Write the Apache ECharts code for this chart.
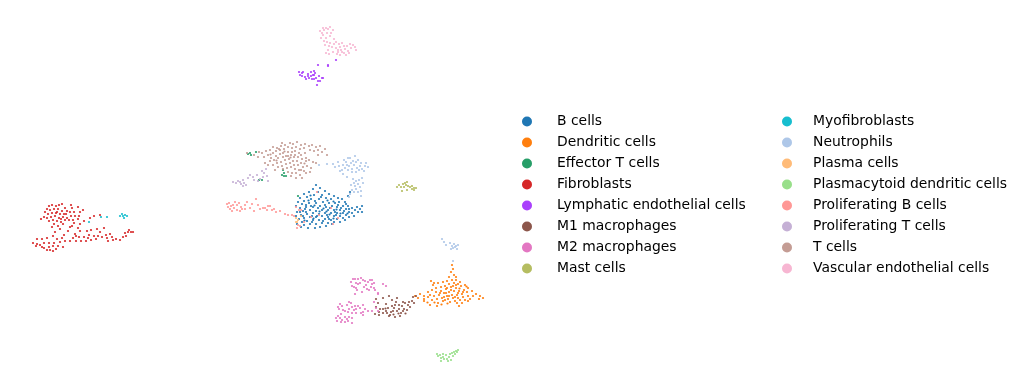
<!DOCTYPE html>
<html><head><meta charset="utf-8">
<style>html,body{margin:0;padding:0;background:#fff}#c{width:1022px;height:389px}</style>
<script src="https://cdn.jsdelivr.net/npm/echarts@6/dist/echarts.min.js"></script>
</head><body><div id="c"></div>
<script>
const bCells=[[316,185],[313,189],[320,188],[318,192],[309,192],[304,194],[325,191],[329,194],[322,195],[314,195],[307,197],[300,198],[334,196],[338,198],[342,199],[331,199],[326,198],[319,199],[311,199],[304,201],[298,202],[345,202],[339,202],[335,203],[329,203],[323,202],[316,203],[309,203],[302,204],[296,206],[348,206],[343,206],[337,207],[332,206],[326,207],[320,206],[313,207],[306,207],[300,208],[352,208],[357,207],[362,206],[346,209],[340,210],[334,210],[328,210],[322,210],[316,211],[310,210],[303,211],[297,212],[355,210],[360,209],[349,212],[343,213],[337,213],[331,213],[325,213],[319,214],[313,213],[307,214],[301,215],[296,216],[352,213],[358,212],[362,212],[346,215],[340,216],[334,216],[328,217],[322,216],[316,217],[310,217],[304,218],[299,219],[354,216],[349,217],[343,218],[337,219],[331,220],[325,219],[319,220],[313,220],[307,221],[302,222],[297,224],[345,220],[340,222],[334,222],[328,223],[322,223],[316,224],[310,224],[304,225],[315,228],[326,226],[301,227],[308,228],[320,227],[332,224],[338,205],[318,208],[311,206],[325,205],[330,208],[305,209],[315,201],[321,197],[306,212],[317,216],[327,215],[336,215],[341,208],[349,209],[346,204],[300,212],[312,216],[323,221],[329,219],[335,212],[344,211],[303,216],[312,222],[348,196],[350,192],[306,205],[310.5,195.5],[327.5,200.5],[333.5,201.5],[314.5,205.5],[323.5,208.5],[308.5,200.5],[336.5,209.5],[319.5,211.5],[313.5,218.5],[326.5,211.5],[340.5,213.5],[304.5,220.5],[329.5,214.5],[347.5,213.5],[333.5,218.5]];
const dendriticCells=[[452,265],[453,269],[451,272],[454,275],[449,277],[456,277],[431,281],[433,285],[438,283],[443,282],[447,281],[452,280],[456,280],[460,282],[458,284],[454,283],[449,284],[445,286],[441,287],[436,288],[432,290],[428,292],[436,292],[441,291],[446,289],[451,287],[456,288],[461,286],[465,285],[468,288],[464,290],[459,291],[454,291],[449,292],[444,293],[439,295],[434,296],[428,297],[424,296],[420,294],[418,298],[415,296],[432,300],[437,299],[442,298],[447,296],[452,295],[457,295],[462,294],[467,292],[472,291],[476,294],[480,296],[483,298],[479,299],[473,296],[468,296],[463,297],[458,298],[453,298],[448,299],[443,301],[438,303],[430,305],[424,301],[450,302],[455,301],[460,300],[465,300],[457,303],[462,303],[470,299],[447,288],[453,286],[458,293],[463,292],[444,297],[451,290],[455,297],[437,306],[459,306],[424,299],[434,283],[440,293],[446,293],[445,300],[449,296],[456,285],[430,295],[468,301],[434.5,302.5],[441.5,304.5],[427.5,302.5],[447.5,303.5],[466.5,286.5],[459.5,288.5]];
const effectorT=[[248,154],[250,153],[251,155],[256,152],[283,170],[284,173],[282,175],[284,176],[286,176],[259,180],[262,180],[298,196]];
const fibroblasts=[[52,205],[56,206],[59,205],[62,204],[65,208],[71,205],[72,208],[78,207],[83,210],[47,209],[50,210],[54,209],[58,209],[62,211],[67,211],[45,212],[48,214],[52,213],[56,213],[60,214],[66,214],[70,212],[74,212],[80,212],[41,219],[44,217],[47,218],[51,217],[55,216],[59,218],[63,217],[67,218],[71,216],[75,216],[79,216],[49,221],[53,220],[57,221],[61,222],[65,220],[69,220],[73,220],[78,219],[84,221],[54,224],[58,226],[63,224],[74,223],[80,224],[52,227],[60,229],[70,227],[78,228],[55,232],[68,231],[80,231],[53,236],[64,235],[75,234],[87,231],[91,230],[97,229],[100,232],[89,235],[84,237],[79,237],[73,238],[62,238],[57,239],[47,238],[42,239],[37,239],[33,243],[37,244],[36,246],[40,245],[44,243],[49,243],[54,243],[60,242],[65,241],[70,241],[76,241],[81,241],[86,241],[91,240],[96,239],[88,238],[94,236],[102,237],[106,235],[110,234],[107,238],[112,237],[116,239],[113,240],[108,241],[120,240],[123,237],[126,236],[128,232],[131,232],[129,230],[133,232],[125,233],[90,218],[94,216],[100,215],[44,248],[49,247],[53,246],[58,246],[63,247],[50,250],[53,251],[47,250],[56,249],[42,247],[61,219],[72,226],[76,236],[98,236],[104,228],[57,212],[64,214],[49,206]];
const lymphatic=[[299,72],[300,75],[302,73],[303,72],[302,76],[305,77],[306,79],[308,76],[309,78],[311,76],[313,75],[314,71],[315,73],[312,79],[314,79],[316,78],[318,81],[320,81],[317,85],[319,76],[322,78],[323,78],[318,65],[328,65],[328,66],[336,60],[308,74],[311,72],[314,75]];
const m1=[[376,299],[378,303],[376,307],[375,314],[379,312],[383,309],[386,311],[388,308],[392,306],[395,305],[399,309],[402,306],[405,303],[409,302],[413,297],[416,296],[412,301],[408,305],[404,309],[401,313],[397,311],[393,311],[390,315],[387,313],[383,313],[380,309],[386,304],[383,298],[389,296],[392,300],[396,302],[394,308],[399,305],[403,311],[407,310],[391,312],[395,317],[400,316],[389,316],[379,315],[410,307],[414,303],[397,298],[403,302],[398.5,313.5],[393.5,314.5],[385.5,308.5],[405.5,313.5]];
const m2=[[353,279],[355,279],[358,279],[361,278],[356,283],[358,284],[352,286],[354,287],[365,281],[368,282],[370,280],[372,280],[366,285],[372,284],[374,283],[367,289],[369,290],[375,290],[374,288],[383,284],[386,286],[357,290],[355,294],[378,293],[340,304],[342,306],[338,307],[349,302],[351,303],[347,305],[352,307],[355,306],[358,306],[343,310],[339,309],[345,311],[349,309],[354,310],[356,309],[360,308],[363,305],[365,309],[368,311],[348,312],[352,313],[356,313],[361,313],[363,315],[341,314],[338,316],[336,318],[337,321],[340,318],[342,320],[345,317],[347,319],[349,317],[341,322],[345,322],[348,321],[352,318],[363,312],[372,311],[376,308],[374,302],[378,294],[378,311],[352,323],[360,283],[363,280],[351,282],[356,288],[364,287],[371,287],[362,292]];
const mast=[[397,187],[399,185],[401,187],[403,184],[405,183],[407,182],[406,185],[404,187],[408,186],[410,187],[412,189],[414,188],[416,188],[414,190],[412,186],[402,191],[407,190]];
const myofibroblasts=[[89,222],[101,217],[107,217],[120,216],[122,214],[123,216],[124,218],[125,215],[127,216]];
const neutrophils=[[327,164],[333,164],[338,162],[344,160],[347,165],[342,170],[345,168],[349,166],[351,163],[353,161],[350,158],[355,156],[348,158],[354,165],[356,162],[358,160],[361,163],[360,166],[357,168],[362,169],[365,166],[368,167],[364,171],[352,169],[356,172],[348,170],[340,171],[343,174],[347,177],[353,179],[356,181],[359,180],[363,183],[358,184],[354,183],[351,185],[355,186],[360,187],[356,189],[361,191],[354,192],[358,192],[352,190],[350,194],[349,197],[362,178],[361,196],[319,165],[442,239],[444,242],[450,243],[452,246],[454,244],[456,246],[458,245],[455,247],[451,249],[453,261],[446,245],[453,248],[457,249],[335,167],[339,166],[346,162],[352,172],[359,170],[366,163],[343,165]];
const plasma=[[296,218],[298,220],[297,222],[301,216],[296,222]];
const plasmacytoid=[[437,354],[438,356],[440,355],[441,358],[443,357],[444,359],[441,361],[447,359],[449,357],[446,355],[450,354],[452,353],[454,352],[456,351],[458,350],[455,354],[453,356],[448,361],[451,360],[457,352],[443,354]];
const prolifB=[[227,204],[228,207],[229,203],[231,206],[230,209],[233,205],[234,208],[235,202],[237,205],[237,210],[239,203],[241,207],[242,209],[245,205],[245,209],[247,202],[250,208],[252,204],[256,199],[258,205],[254,211],[260,209],[263,208],[265,208],[267,210],[270,206],[272,210],[274,209],[276,212],[280,211],[285,214],[288,215],[292,215],[296,207],[299,210],[298,225],[300,226],[304,222],[311,217],[319,215],[331,208],[338,218],[333,224],[317,192],[232,211],[240,211],[268,206],[294,216],[301,210],[297,228]];
const prolifT=[[233,182],[236,183],[238,181],[240,182],[243,186],[241,184],[244,183],[246,185],[243,180],[248,178],[250,175],[253,177],[257,175],[260,179],[263,177],[266,169],[264,173],[262,171],[267,176],[268,181],[254,180],[258,181]];
const tCells=[[247,153],[254,155],[259,152],[262,153],[258,157],[266,151],[270,150],[273,147],[277,148],[281,146],[285,145],[290,143],[293,144],[297,142],[301,145],[305,144],[309,146],[312,145],[316,147],[320,146],[325,149],[273,153],[276,151],[280,150],[284,149],[288,147],[292,148],[296,147],[300,149],[268,155],[271,158],[276,156],[280,154],[283,153],[288,152],[292,152],[295,151],[299,153],[304,148],[305,153],[310,150],[314,151],[270,161],[274,160],[278,158],[283,157],[286,156],[291,155],[294,157],[298,157],[302,159],[273,165],[277,163],[281,162],[285,160],[289,159],[293,161],[297,161],[301,163],[306,161],[278,167],[282,166],[286,164],[290,163],[294,165],[298,165],[303,167],[307,166],[283,169],[287,168],[291,167],[295,169],[299,170],[304,171],[288,172],[292,173],[296,173],[300,175],[309,160],[313,162],[318,155],[316,163],[268,165],[264,157],[282,143],[288,156],[275,170],[295,155],[301,155],[279,149],[306,158],[311,168],[306,173],[301,170],[322,152],[318,150],[327,155],[265,163],[296,178],[291,176],[302,178],[310,172],[284.5,151.5],[276.5,160.5],[290.5,157.5],[270.5,154.5],[304.5,163.5]];
const vascular=[[320,31],[322,33],[324,30],[326,28],[328,29],[330,27],[333,30],[331,33],[327,33],[323,35],[326,38],[330,36],[334,39],[324,41],[327,42],[330,43],[334,44],[325,45],[329,46],[332,47],[336,42],[336,48],[338,50],[340,47],[342,52],[345,49],[347,46],[350,44],[353,45],[355,47],[351,48],[348,51],[344,53],[340,55],[338,52],[328,50],[326,53],[329,54],[342,43],[346,55],[337,54],[321,38],[344,46],[339,44],[333,52],[349,53],[341,50],[323,28],[356,50]];

const names=["B cells","Dendritic cells","Effector T cells","Fibroblasts","Lymphatic endothelial cells","M1 macrophages","M2 macrophages","Mast cells","Myofibroblasts","Neutrophils","Plasma cells","Plasmacytoid dendritic cells","Proliferating B cells","Proliferating T cells","T cells","Vascular endothelial cells"];
const values=[bCells,dendriticCells,effectorT,fibroblasts,lymphatic,m1,m2,mast,myofibroblasts,neutrophils,plasma,plasmacytoid,prolifB,prolifT,tCells,vascular];
const colors=["#1f77b4","#ff7f0e","#279e68","#d62728","#aa40fc","#8c564b","#e377c2","#b5bd61","#17becf","#aec7e8","#ffbb78","#98df8a","#ff9896","#c5b0d5","#c49c94","#f7b6d2"];

const legendBase={orient:'vertical',icon:'circle',itemWidth:10,itemHeight:10,itemGap:7,top:109.5,selectedMode:false,
  textStyle:{fontFamily:'DejaVu Sans',fontSize:13.9,lineHeight:14,color:'#000'}};
const chart=echarts.init(document.getElementById('c'),null,{renderer:'canvas'});
chart.setOption({
  animation:false,
  backgroundColor:'#fff',
  color:colors,
  grid:{left:0,top:0,width:500,height:389},
  xAxis:{type:'value',min:0,max:500,show:false},
  yAxis:{type:'value',min:0,max:389,inverse:true,show:false},
  legend:[
    Object.assign({},legendBase,{left:517,data:names.slice(0,8),textStyle:Object.assign({},legendBase.textStyle,{padding:[0,0,0,20]})}),
    Object.assign({},legendBase,{left:777,data:names.slice(8),textStyle:Object.assign({},legendBase.textStyle,{padding:[0,0,0,16]})})
  ],
  series:names.map((n,i)=>({name:n,type:'scatter',data:values[i],symbolSize:2.2,itemStyle:{color:colors[i],opacity:1},silent:true}))
});
</script></body></html>
